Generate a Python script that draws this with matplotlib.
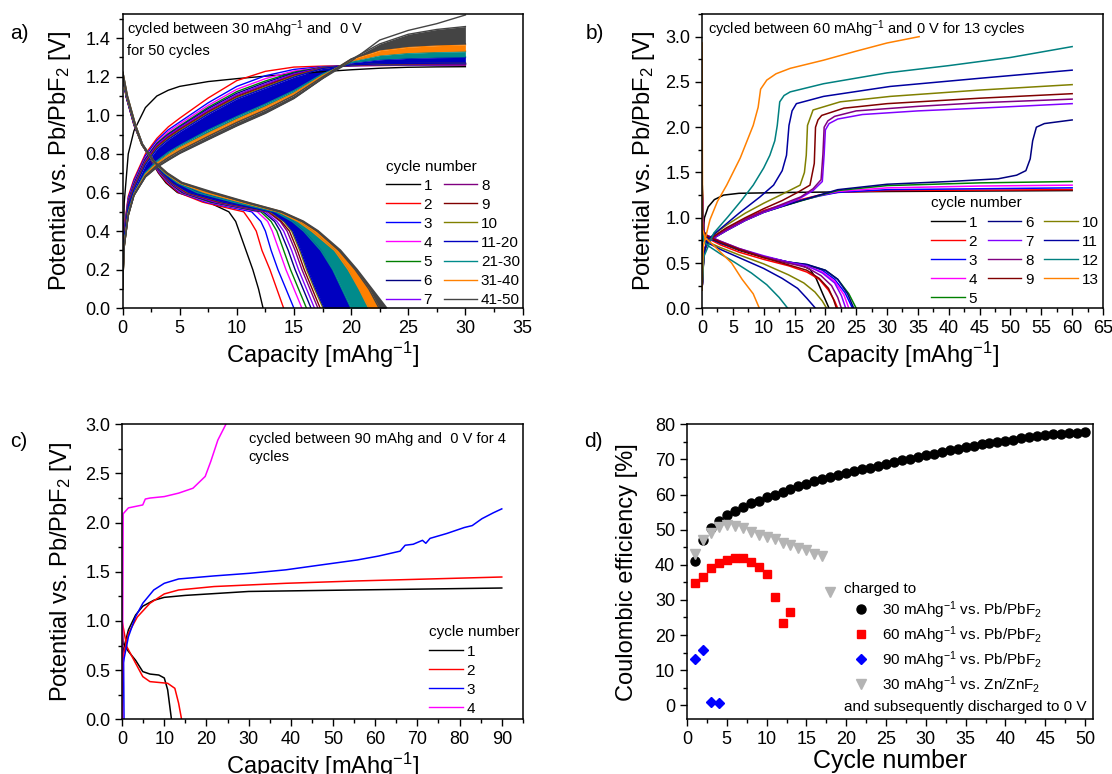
import matplotlib
matplotlib.use("Agg")
import matplotlib.pyplot as plt
from matplotlib.lines import Line2D
from matplotlib.ticker import MultipleLocator, FormatStrFormatter

plt.rcParams['font.family'] = ['Liberation Sans', 'DejaVu Sans']
plt.rcParams['mathtext.fontset'] = 'custom'
plt.rcParams['mathtext.rm'] = 'Liberation Sans'
plt.rcParams['mathtext.it'] = 'Liberation Sans:italic'
plt.rcParams['mathtext.bf'] = 'Liberation Sans:bold'

# ---------- panel a: 30 mAh/g, 50 cycles ----------
A_LABELS = ['1', '2', '3', '4', '5', '6', '7', '8', '9', '10']
A_COLORS = ['#000000', '#ff0000', '#0000ff', '#ff00ff', '#008000',
            '#000080', '#8000ff', '#800080', '#800000', '#808000']
A_GROUP_LABELS = ['11-20', '21-30', '31-40', '41-50']
A_GROUP_COLORS = ['#0000c0', '#008b8b', '#ff8000', '#444444']

# discharge: capacity read at fixed potential levels
DIS_V = [1.22, 1.10, 0.95, 0.85, 0.76, 0.70, 0.65, 0.60, 0.55, 0.50, 0.45, 0.40, 0.30, 0.20, 0.10, 0.00]
A_DIS = [
    [0.0, 0.30, 1.00, 1.70, 2.55, 3.15, 3.80, 4.80, 7.50, 9.30, 9.90, 10.20, 10.80, 11.40, 11.90, 12.30],
    [0.0, 0.30, 1.00, 1.70, 2.57, 3.20, 3.90, 4.90, 7.00, 10.60, 11.20, 11.70, 12.20, 12.90, 13.50, 14.10],
    [0.0, 0.31, 1.01, 1.70, 2.58, 3.25, 4.00, 5.00, 7.30, 11.30, 12.10, 12.50, 13.00, 13.60, 14.30, 15.00],
    [0.0, 0.31, 1.02, 1.70, 2.60, 3.30, 4.05, 5.10, 7.50, 11.80, 12.70, 13.10, 13.70, 14.30, 15.00, 15.70],
    [0.0, 0.32, 1.03, 1.70, 2.61, 3.35, 4.10, 5.20, 7.70, 12.10, 13.00, 13.50, 14.10, 14.70, 15.40, 16.10],
    [0.0, 0.32, 1.04, 1.71, 2.62, 3.40, 4.15, 5.30, 7.90, 12.30, 13.30, 13.80, 14.50, 15.10, 15.80, 16.50],
    [0.0, 0.33, 1.04, 1.71, 2.63, 3.42, 4.20, 5.40, 8.10, 12.50, 13.50, 14.10, 14.80, 15.40, 16.10, 16.80],
    [0.0, 0.33, 1.05, 1.71, 2.64, 3.45, 4.25, 5.50, 8.30, 12.70, 13.80, 14.40, 15.10, 15.70, 16.40, 17.10],
    [0.0, 0.34, 1.05, 1.71, 2.64, 3.48, 4.30, 5.60, 8.50, 12.80, 13.90, 14.60, 15.30, 15.90, 16.60, 17.30],
    [0.0, 0.34, 1.06, 1.72, 2.65, 3.50, 4.35, 5.70, 8.70, 12.90, 14.10, 14.80, 15.50, 16.10, 16.80, 17.55],
]
# first / last curve of each cycle group
A_GROUP_DIS = [
    ([0.0, 0.34, 1.06, 1.72, 2.66, 3.52, 4.40, 5.80, 8.80, 13.00, 14.20, 14.90, 15.60, 16.20, 16.90, 17.65],
     [0.0, 0.36, 1.08, 1.72, 2.70, 3.65, 4.75, 6.50, 9.60, 13.30, 14.80, 15.80, 17.30, 18.30, 19.10, 19.90]),
    ([0.0, 0.36, 1.08, 1.72, 2.70, 3.66, 4.77, 6.50, 9.70, 13.35, 14.85, 15.85, 17.35, 18.40, 19.20, 20.00],
     [0.0, 0.38, 1.09, 1.71, 2.72, 3.76, 4.95, 7.20, 10.30, 13.60, 15.30, 16.50, 18.50, 19.70, 20.60, 21.50]),
    ([0.0, 0.38, 1.09, 1.71, 2.72, 3.77, 4.97, 7.20, 10.35, 13.65, 15.35, 16.55, 18.55, 19.75, 20.70, 21.55],
     [0.0, 0.39, 1.10, 1.70, 2.74, 3.85, 5.12, 7.70, 10.70, 13.85, 15.70, 17.00, 18.90, 20.30, 21.50, 22.40]),
    ([0.0, 0.39, 1.10, 1.70, 2.74, 3.86, 5.13, 7.70, 10.72, 13.87, 15.72, 17.02, 18.92, 20.35, 21.55, 22.45],
     [0.0, 0.40, 1.10, 1.70, 2.75, 3.90, 5.20, 7.90, 10.80, 13.90, 15.80, 17.10, 19.05, 20.50, 21.80, 23.10]),
]

# charge: potential read at fixed capacities
CHG_X = [0, 0.15, 0.5, 1, 2, 3, 4, 5, 7.5, 10, 12.5, 15, 17.5, 20, 22.5, 25, 27.5, 30]
A_CHG = [
    [0.10, 0.55, 0.80, 0.92, 1.04, 1.10, 1.13, 1.15, 1.175, 1.19, 1.203, 1.214, 1.226, 1.236, 1.244, 1.249, 1.251, 1.252],
    [0.10, 0.42, 0.58, 0.67, 0.80, 0.88, 0.94, 0.985, 1.09, 1.18, 1.228, 1.25, 1.255, 1.257, 1.258, 1.259, 1.26, 1.26],
    [0.10, 0.41, 0.57, 0.66, 0.79, 0.87, 0.925, 0.965, 1.065, 1.15, 1.205, 1.238, 1.252, 1.257, 1.259, 1.26, 1.261, 1.262],
    [0.10, 0.40, 0.56, 0.65, 0.78, 0.86, 0.915, 0.955, 1.052, 1.135, 1.19, 1.23, 1.25, 1.257, 1.26, 1.262, 1.263, 1.264],
    [0.10, 0.40, 0.555, 0.645, 0.775, 0.855, 0.905, 0.945, 1.042, 1.123, 1.178, 1.224, 1.249, 1.258, 1.261, 1.263, 1.264, 1.265],
    [0.10, 0.39, 0.55, 0.64, 0.77, 0.85, 0.90, 0.94, 1.035, 1.114, 1.17, 1.219, 1.248, 1.258, 1.262, 1.264, 1.265, 1.266],
    [0.10, 0.39, 0.545, 0.635, 0.765, 0.845, 0.895, 0.935, 1.028, 1.107, 1.163, 1.214, 1.247, 1.259, 1.263, 1.265, 1.266, 1.267],
    [0.10, 0.38, 0.54, 0.63, 0.76, 0.84, 0.89, 0.93, 1.022, 1.101, 1.157, 1.21, 1.246, 1.259, 1.264, 1.266, 1.267, 1.268],
    [0.10, 0.38, 0.535, 0.625, 0.755, 0.835, 0.885, 0.925, 1.017, 1.096, 1.152, 1.206, 1.245, 1.26, 1.265, 1.267, 1.268, 1.269],
    [0.10, 0.37, 0.53, 0.62, 0.75, 0.83, 0.88, 0.92, 1.012, 1.091, 1.147, 1.202, 1.244, 1.26, 1.266, 1.268, 1.269, 1.27],
]
A_GROUP_CHG = [
    ([0.10, 0.37, 0.53, 0.615, 0.745, 0.825, 0.875, 0.915, 1.007, 1.086, 1.142, 1.198, 1.243, 1.261, 1.267, 1.269, 1.27, 1.271],
     [0.10, 0.34, 0.50, 0.595, 0.705, 0.765, 0.81, 0.845, 0.925, 0.995, 1.06, 1.13, 1.215, 1.272, 1.288, 1.295, 1.299, 1.30]),
    ([0.10, 0.34, 0.50, 0.594, 0.703, 0.763, 0.808, 0.843, 0.923, 0.993, 1.058, 1.128, 1.214, 1.274, 1.291, 1.298, 1.302, 1.304],
     [0.10, 0.33, 0.49, 0.59, 0.695, 0.752, 0.795, 0.832, 0.908, 0.98, 1.045, 1.117, 1.207, 1.28, 1.31, 1.322, 1.327, 1.33]),
    ([0.10, 0.33, 0.49, 0.59, 0.694, 0.751, 0.794, 0.831, 0.906, 0.978, 1.043, 1.115, 1.206, 1.282, 1.313, 1.326, 1.331, 1.334],
     [0.10, 0.32, 0.485, 0.587, 0.688, 0.742, 0.782, 0.818, 0.893, 0.965, 1.03, 1.105, 1.20, 1.29, 1.335, 1.353, 1.361, 1.365]),
    ([0.10, 0.32, 0.485, 0.587, 0.687, 0.741, 0.781, 0.816, 0.891, 0.963, 1.028, 1.103, 1.199, 1.292, 1.34, 1.358, 1.366, 1.37],
     [0.10, 0.32, 0.48, 0.585, 0.682, 0.733, 0.77, 0.805, 0.877, 0.948, 1.013, 1.09, 1.192, 1.29, 1.37, 1.42, 1.445, 1.46]),
]
A_CHG_50 = [0.10, 0.32, 0.48, 0.585, 0.68, 0.73, 0.767, 0.802, 0.874, 0.945, 1.01, 1.087, 1.19, 1.28, 1.39, 1.44, 1.475, 1.52]

# ---------- panel b: 60 mAh/g, 13 cycles ----------
B_LABELS = [str(i) for i in range(1, 14)]
B_COLORS = ['#000000', '#ff0000', '#0000ff', '#ff00ff', '#008000', '#000080', '#8000ff',
            '#800080', '#800000', '#808000', '#0000a0', '#008080', '#ff8000']
B_CHG = [
    [(0.0, 0.3), (0.1, 0.8), (0.4, 1.0), (1, 1.12), (2, 1.2), (3.5, 1.25), (6, 1.27), (15, 1.28), (30, 1.29), (45, 1.295), (60, 1.30)],
    [(0.0, 0.2), (0.3, 0.62), (0.8, 0.74), (2, 0.80), (4, 0.88), (7, 0.99), (10, 1.08), (13, 1.14), (16, 1.20), (19, 1.25), (22, 1.28), (30, 1.30), (45, 1.305), (60, 1.31)],
    [(0.0, 0.2), (0.3, 0.62), (0.8, 0.73), (2, 0.79), (4, 0.87), (7, 0.98), (10, 1.07), (13, 1.13), (16, 1.19), (19, 1.24), (22, 1.28), (30, 1.31), (45, 1.32), (60, 1.33)],
    [(0.0, 0.2), (0.3, 0.62), (0.8, 0.73), (2, 0.79), (4, 0.87), (7, 0.98), (10, 1.065), (13, 1.13), (16, 1.19), (19, 1.245), (22, 1.29), (30, 1.33), (45, 1.35), (60, 1.36)],
    [(0.0, 0.2), (0.3, 0.62), (0.8, 0.72), (2, 0.78), (4, 0.86), (7, 0.97), (10, 1.06), (13, 1.125), (16, 1.185), (19, 1.245), (22, 1.30), (30, 1.355), (45, 1.385), (60, 1.40)],
    [(0.0, 0.2), (0.3, 0.62), (0.8, 0.72), (2, 0.78), (4, 0.86), (7, 0.97), (10, 1.06), (13, 1.125), (16, 1.19), (19, 1.25), (22, 1.31), (30, 1.37), (40, 1.40), (48, 1.43), (51, 1.47), (52.5, 1.52), (53.2, 1.65), (53.6, 1.85), (54.2, 2.0), (55.5, 2.04), (60, 2.08)],
    [(0.0, 0.2), (0.3, 0.6), (0.8, 0.72), (2, 0.78), (4, 0.86), (7, 0.97), (10, 1.06), (13, 1.13), (16, 1.22), (18, 1.30), (19.5, 1.40), (19.8, 1.7), (20.0, 1.97), (20.6, 2.04), (22, 2.09), (26, 2.14), (35, 2.18), (45, 2.21), (60, 2.26)],
    [(0.0, 0.2), (0.3, 0.6), (0.8, 0.72), (2, 0.79), (4, 0.87), (7, 0.98), (10, 1.07), (13, 1.15), (16, 1.23), (18, 1.32), (19.3, 1.42), (19.6, 1.7), (19.8, 2.0), (20.4, 2.07), (21.5, 2.12), (25, 2.18), (35, 2.23), (45, 2.27), (60, 2.31)],
    [(0.0, 0.2), (0.3, 0.6), (0.8, 0.73), (2, 0.80), (4, 0.89), (7, 1.00), (10, 1.10), (13, 1.19), (15.5, 1.28), (17.5, 1.36), (18.2, 1.6), (18.4, 2.0), (18.8, 2.08), (19.4, 2.13), (23, 2.21), (30, 2.26), (45, 2.32), (60, 2.37)],
    [(0.0, 0.2), (0.3, 0.6), (0.8, 0.74), (2, 0.82), (4, 0.92), (7, 1.05), (10, 1.16), (13, 1.26), (15.9, 1.36), (16.6, 1.5), (16.9, 1.69), (17.1, 2.02), (18.0, 2.19), (22.4, 2.28), (30.5, 2.34), (45, 2.41), (60, 2.47)],
    [(0.0, 0.2), (0.3, 0.58), (0.8, 0.75), (2.5, 0.85), (6, 1.05), (9.4, 1.23), (11.6, 1.36), (13.0, 1.52), (13.7, 1.69), (14.1, 2.02), (14.6, 2.18), (15.3, 2.26), (19.7, 2.34), (30.5, 2.45), (45, 2.54), (60, 2.63)],
    [(0.0, 0.2), (0.3, 0.57), (1.9, 0.83), (4.2, 1.01), (6.5, 1.2), (8.3, 1.36), (10, 1.55), (11.0, 1.69), (11.8, 1.85), (12.2, 2.02), (12.6, 2.28), (13.3, 2.35), (14.3, 2.39), (19.7, 2.48), (30, 2.60), (40, 2.68), (50, 2.77), (60, 2.89)],
    [(0.0, 0.2), (0.2, 0.68), (1.3, 0.98), (2.5, 1.18), (4.0, 1.36), (6.2, 1.66), (8.3, 2.02), (9.1, 2.22), (9.5, 2.42), (10.5, 2.52), (12, 2.59), (14.3, 2.65), (19.7, 2.74), (25, 2.84), (30, 2.93), (35.2, 3.0)],
]
B_DIS = [
    [(0.05, 1.35), (0.3, 0.85), (1, 0.78), (3, 0.72), (6, 0.64), (10, 0.56), (14, 0.50), (16, 0.48), (17.5, 0.43), (18.5, 0.33), (19.5, 0.17), (20.6, 0.0)],
    [(0.05, 1.30), (0.3, 0.82), (1, 0.77), (3, 0.70), (6, 0.62), (10, 0.54), (14, 0.47), (17, 0.40), (19, 0.32), (20.5, 0.20), (21.5, 0.08), (22.0, 0.0)],
    [(0.05, 1.25), (0.3, 0.80), (1, 0.78), (3, 0.72), (6, 0.65), (10, 0.57), (14, 0.51), (17, 0.48), (19.5, 0.42), (21.5, 0.32), (23.2, 0.17), (24.4, 0.0)],
    [(0.05, 1.20), (0.3, 0.80), (1, 0.78), (3, 0.72), (6, 0.65), (10, 0.57), (14, 0.51), (17, 0.47), (19.5, 0.40), (21.5, 0.30), (23, 0.15), (23.8, 0.0)],
    [(0.05, 1.15), (0.3, 0.80), (1, 0.78), (3, 0.72), (6, 0.65), (10, 0.57), (14, 0.51), (17, 0.48), (20, 0.42), (22, 0.32), (23.8, 0.16), (25.0, 0.0)],
    [(0.05, 1.10), (0.3, 0.80), (1, 0.78), (3, 0.72), (6, 0.65), (10, 0.57), (14, 0.51), (17, 0.485), (20, 0.42), (22, 0.32), (23.6, 0.16), (24.6, 0.0)],
    [(0.05, 1.05), (0.3, 0.82), (1, 0.80), (3, 0.74), (6, 0.66), (10, 0.58), (14, 0.51), (17, 0.47), (19.5, 0.39), (21.5, 0.28), (22.6, 0.14), (23.3, 0.0)],
    [(0.05, 1.00), (0.3, 0.82), (1, 0.80), (3, 0.74), (6, 0.66), (10, 0.57), (14, 0.50), (17, 0.45), (19.3, 0.36), (21, 0.25), (22, 0.12), (22.6, 0.0)],
    [(0.05, 0.95), (0.3, 0.82), (1, 0.79), (3, 0.73), (6, 0.65), (10, 0.56), (14, 0.48), (17, 0.42), (19, 0.33), (20.5, 0.22), (21.3, 0.10), (21.8, 0.0)],
    [(0.05, 0.90), (0.3, 0.76), (1, 0.73), (3, 0.67), (6, 0.59), (10, 0.49), (14, 0.37), (16.5, 0.28), (18.3, 0.18), (19.5, 0.08), (20.2, 0.0)],
    [(0.05, 0.90), (0.3, 0.75), (1, 0.72), (3, 0.65), (6, 0.56), (10, 0.44), (13, 0.33), (15.5, 0.22), (17, 0.11), (18.4, 0.0)],
    [(0.05, 0.85), (0.3, 0.74), (1, 0.69), (3, 0.60), (5, 0.52), (8, 0.39), (10.5, 0.26), (12.5, 0.12), (13.9, 0.0)],
    [(0.0, 2.93), (0.1, 0.87), (0.5, 0.78), (1.5, 0.72), (3, 0.62), (4.8, 0.50), (6.5, 0.32), (8.3, 0.16), (9.3, 0.0)],
]

# ---------- panel c: 90 mAh/g, 4 cycles ----------
C_LABELS = ['1', '2', '3', '4']
C_COLORS = ['#000000', '#ff0000', '#0000ff', '#ff00ff']
C_CHG = [
    [(0.0, 0.3), (0.25, 0.70), (1.5, 0.91), (3.2, 1.06), (4.9, 1.15), (7.5, 1.21), (10, 1.24), (15, 1.26), (30, 1.30), (55, 1.315), (90, 1.335)],
    [(0.0, 0.2), (0.25, 0.64), (1.5, 0.875), (3.6, 1.04), (6.6, 1.18), (10, 1.275), (13.4, 1.315), (21.8, 1.35), (38.8, 1.383), (55.7, 1.407), (90, 1.447)],
    [(0.0, 0.2), (0.25, 0.57), (1.5, 0.84), (3.2, 1.044), (4.9, 1.18), (7.5, 1.315), (10, 1.383), (13.4, 1.427), (21.8, 1.458), (30.3, 1.485),
     (38.8, 1.52), (47.2, 1.57), (55.7, 1.62), (60.8, 1.66), (65.9, 1.71), (67.1, 1.77), (69, 1.78), (71.2, 1.82), (72, 1.79), (73, 1.84),
     (77, 1.89), (81.1, 1.95), (83, 1.97), (85.3, 2.04), (88, 2.10), (90, 2.14)],
    [(0.0, 0.0), (0.15, 1.0), (0.25, 2.09), (1.5, 2.15), (4.9, 2.18), (5.5, 2.24), (6.6, 2.25), (10, 2.265), (13.4, 2.30), (16.8, 2.35),
     (19.7, 2.47), (21, 2.62), (22.7, 2.84), (24.6, 3.0)],
]
C_DIS = [
    [(0.0, 0.95), (0.25, 0.77), (1.5, 0.69), (3.2, 0.60), (4.9, 0.485), (6.6, 0.46), (8.7, 0.45), (10, 0.42), (10.8, 0.30), (11.7, 0.0)],
    [(0.0, 1.0), (1.1, 0.74), (3.2, 0.57), (4.9, 0.434), (6.6, 0.383), (9.1, 0.373), (10.8, 0.366), (12.5, 0.315), (13.4, 0.163), (14.1, 0.0)],
    [(0.35, 0.62), (0.45, 0.0)],
    [(0.05, 0.2), (0.1, 0.0)],
]

# ---------- panel d: coulombic efficiency ----------
D_CYC_30 = list(range(1, 51))
D_EFF_30 = [41.0, 47.0, 50.5, 52.4, 54.1, 55.3, 56.5, 57.5, 58.3, 59.2,
            60.0, 60.8, 61.6, 62.3, 63.0, 63.8, 64.3, 64.9, 65.5, 66.0,
            66.6, 67.2, 67.6, 68.2, 68.7, 69.3, 69.7, 70.2, 70.7, 71.2,
            71.6, 72.1, 72.6, 73.0, 73.4, 73.8, 74.3, 74.6, 75.0, 75.3,
            75.6, 76.0, 76.3, 76.6, 76.9, 77.1, 77.3, 77.4, 77.5, 77.7]
D_CYC_60 = list(range(1, 14))
D_EFF_60 = [34.9, 36.6, 39.0, 40.6, 41.5, 42.0, 42.0, 40.9, 39.4, 37.5, 30.7, 23.3, 26.6]
D_CYC_90 = [1, 2, 3, 4]
D_EFF_90 = [13.2, 15.6, 0.8, 0.7]
D_CYC_ZN = list(range(1, 19))
D_EFF_ZN = [43.2, 47.0, 49.1, 50.8, 51.3, 51.1, 50.5, 49.4, 48.6, 48.0,
            47.2, 46.3, 45.6, 44.9, 44.2, 43.2, 42.6, 32.3]
D_LABELS = [r'30 mAhg$^{-1}$ vs. Pb/PbF$_2$', r'60 mAhg$^{-1}$ vs. Pb/PbF$_2$',
            r'90 mAhg$^{-1}$ vs. Pb/PbF$_2$', r'30 mAhg$^{-1}$ vs. Zn/ZnF$_2$']

TICK_FS = 13
LABEL_FS = 17
SMALL_FS = 10.5
LEG_FS = 11
POT_LABEL = r'Potential vs. Pb/PbF$_2$ [V]'
CAP_LABEL = r'Capacity [mAhg$^{-1}$]'


def style(ax, xmaj, xmin, ymaj, ymin, yfmt=None):
    ax.xaxis.set_major_locator(MultipleLocator(xmaj))
    ax.xaxis.set_minor_locator(MultipleLocator(xmin))
    ax.yaxis.set_major_locator(MultipleLocator(ymaj))
    ax.yaxis.set_minor_locator(MultipleLocator(ymin))
    if yfmt:
        ax.yaxis.set_major_formatter(FormatStrFormatter(yfmt))
    ax.tick_params(which='major', direction='out', length=5, width=1.0, labelsize=TICK_FS)
    ax.tick_params(which='minor', direction='out', length=3, width=1.0)
    for s in ax.spines.values():
        s.set_linewidth(1.1)


def xy(points):
    return [p[0] for p in points], [p[1] for p in points]


def line_legend(ax, colors, labels, anchor, ncol=1, colsp=0.7):
    handles = [Line2D([], [], color=c, lw=1.0) for c in colors]
    ax.legend(handles, labels, title='cycle number', ncol=ncol, loc='upper left',
              bbox_to_anchor=anchor, frameon=False, fontsize=LEG_FS, title_fontsize=LEG_FS,
              alignment='left', borderpad=0, borderaxespad=0, handlelength=2.2,
              handletextpad=0.25, columnspacing=colsp, labelspacing=0.33)


def draw_a(ax):
    for i in range(10):
        ax.plot(CHG_X, A_CHG[i], color=A_COLORS[i], lw=1.0)
        ax.plot(A_DIS[i], DIS_V, color=A_COLORS[i], lw=1.0)
    for g in range(4):
        col = A_GROUP_COLORS[g]
        lo, hi = A_GROUP_CHG[g]
        ax.fill_between(CHG_X, lo, hi, color=col, lw=0)
        ax.plot(CHG_X, lo, color=col, lw=1.0)
        ax.plot(CHG_X, hi, color=col, lw=1.0)
        lo, hi = A_GROUP_DIS[g]
        ax.fill_betweenx(DIS_V, lo, hi, color=col, lw=0)
        ax.plot(lo, DIS_V, color=col, lw=1.0)
        ax.plot(hi, DIS_V, color=col, lw=1.6)
    ax.plot(CHG_X, A_CHG_50, color=A_GROUP_COLORS[3], lw=1.0)

    ax.set_xlim(0, 35)
    ax.set_ylim(0, 1.525)
    style(ax, 5, 2.5, 0.2, 0.1, '%.1f')
    ax.set_xlabel(CAP_LABEL, fontsize=LABEL_FS, labelpad=2)
    ax.set_ylabel(POT_LABEL, fontsize=LABEL_FS, labelpad=9)
    ax.text(0.012, 0.985, 'cycled between 30 mAhg$^{-1}$ and  0 V\nfor 50 cycles',
            transform=ax.transAxes, fontsize=SMALL_FS, va='top', ha='left', linespacing=1.35)
    line_legend(ax, A_COLORS + A_GROUP_COLORS, A_LABELS + A_GROUP_LABELS,
                (0.659, 0.505), ncol=2, colsp=0.75)


def draw_b(ax):
    for i in range(13):
        x, y = xy(B_CHG[i])
        ax.plot(x, y, color=B_COLORS[i], lw=1.1)
        x, y = xy(B_DIS[i])
        ax.plot(x, y, color=B_COLORS[i], lw=1.1)
    ax.set_xlim(0, 65)
    ax.set_ylim(0, 3.25)
    style(ax, 5, 2.5, 0.5, 0.25, '%.1f')
    ax.set_xlabel(CAP_LABEL, fontsize=LABEL_FS, labelpad=2)
    ax.set_ylabel(POT_LABEL, fontsize=LABEL_FS, labelpad=6)
    ax.text(0.015, 0.985, 'cycled between 60 mAhg$^{-1}$ and 0 V for 13 cycles',
            transform=ax.transAxes, fontsize=SMALL_FS, va='top', ha='left')
    line_legend(ax, B_COLORS, B_LABELS, (0.571, 0.38), ncol=3, colsp=0.7)


def draw_c(ax):
    for i in range(4):
        x, y = xy(C_CHG[i])
        ax.plot(x, y, color=C_COLORS[i], lw=1.1)
        x, y = xy(C_DIS[i])
        ax.plot(x, y, color=C_COLORS[i], lw=1.1)
    ax.set_xlim(0, 95)
    ax.set_ylim(0, 3.0)
    style(ax, 10, 5, 0.5, 0.25, '%.1f')
    ax.set_xlabel(CAP_LABEL, fontsize=LABEL_FS, labelpad=2)
    ax.set_ylabel(POT_LABEL, fontsize=LABEL_FS, labelpad=8)
    ax.text(0.316, 0.975, 'cycled between 90 mAhg and  0 V for 4\ncycles',
            transform=ax.transAxes, fontsize=SMALL_FS, va='top', ha='left', linespacing=1.35)
    line_legend(ax, C_COLORS, C_LABELS, (0.766, 0.318))


def draw_d(ax):
    h1, = ax.plot(D_CYC_30, D_EFF_30, ls='none', marker='o', ms=6.5, color='#000000')
    h2, = ax.plot(D_CYC_60, D_EFF_60, ls='none', marker='s', ms=5.8, color='#ff0000')
    h3, = ax.plot(D_CYC_90, D_EFF_90, ls='none', marker='D', ms=5.5, color='#0000ff')
    h4, = ax.plot(D_CYC_ZN, D_EFF_ZN, ls='none', marker='v', ms=7, color='#b4b4b4')
    ax.set_xlim(0, 51)
    ax.set_ylim(-4, 80)
    style(ax, 5, 2.5, 10, 5)
    ax.set_xlabel('Cycle number', fontsize=LABEL_FS + 1, labelpad=1)
    ax.set_ylabel('Coulombic efficiency [%]', fontsize=LABEL_FS, labelpad=12)
    ax.legend([h1, h2, h3, h4], D_LABELS, title='charged to', loc='upper left',
              bbox_to_anchor=(0.387, 0.466), frameon=False, fontsize=LEG_FS, title_fontsize=LEG_FS,
              alignment='left', borderpad=0, borderaxespad=0, handlelength=2.2,
              handletextpad=0.3, labelspacing=0.22)
    ax.text(0.387, 0.042, 'and subsequently discharged to 0 V', transform=ax.transAxes,
            fontsize=LEG_FS, va='center', ha='left')


def main():
    fig = plt.figure(figsize=(11.12, 7.74), dpi=100)
    ax_a = fig.add_axes([0.1102, 0.6017, 0.3597, 0.3802])
    ax_b = fig.add_axes([0.6313, 0.6017, 0.3606, 0.3802])
    ax_c = fig.add_axes([0.1098, 0.0707, 0.3604, 0.3811])
    ax_d = fig.add_axes([0.6178, 0.0707, 0.3651, 0.3811])
    draw_a(ax_a)
    draw_b(ax_b)
    draw_c(ax_c)
    draw_d(ax_d)

    for lbl, x, y in [('a)', 0.009, 0.957), ('b)', 0.527, 0.957),
                      ('c)', 0.009, 0.429), ('d)', 0.525, 0.429)]:
        fig.text(x, y, lbl, fontsize=15, va='center', ha='left')

    fig.savefig('out.png', dpi=100)


main()
